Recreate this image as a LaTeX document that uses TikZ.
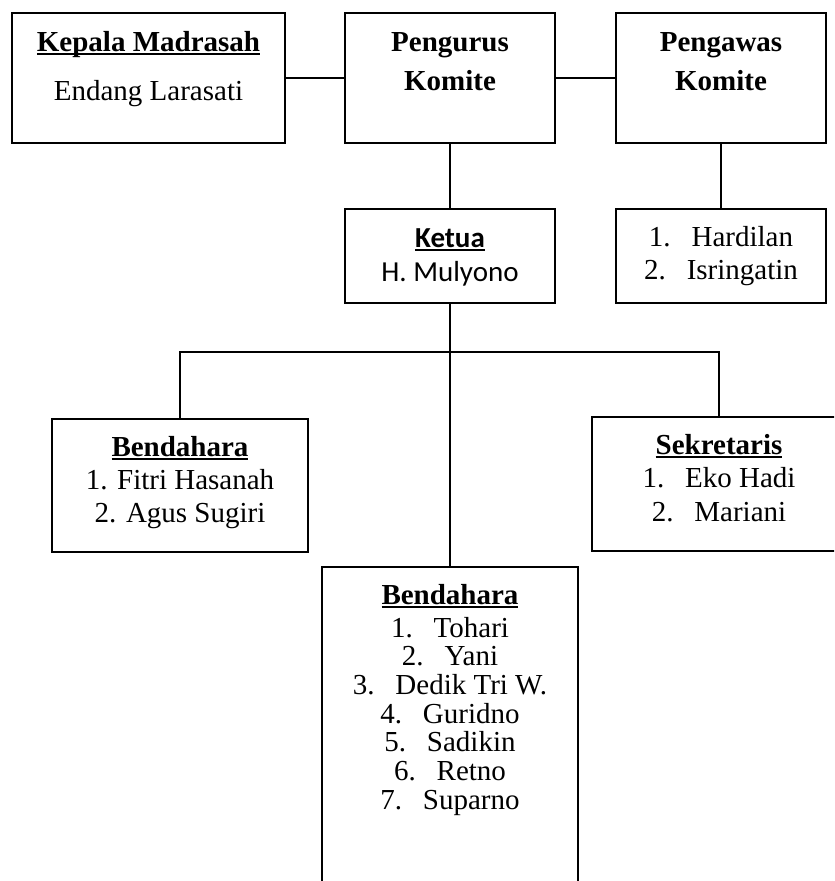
\documentclass[tikz,border=0pt]{standalone}
\usepackage{fontspec}
\setmainfont{Liberation Serif}
\newfontfamily\carlito{Carlito}
\newcommand{\tabgap}{\hspace{0.72em}}
\newcommand{\boxhead}[1]{\setbox0\hbox{\textbf{#1}}\rlap{\rule[-1.8pt]{\wd0}{1pt}}\box0}
\begin{document}
\begin{tikzpicture}[x=0.5pt, y=-0.5pt,
    box/.style={draw, line width=0.8pt, inner sep=0pt},
    txt/.style={anchor=base, align=center, font=\fontsize{14.5pt}{#1}\selectfont},
    txt/.default=16.5pt,
    conn/.style={line width=0.9pt}]
    \useasboundingbox (0,0) rectangle (834,881);
    \clip (0,0) rectangle (834,881);
    \node[box, minimum width=136.5pt, minimum height=65pt] (kepala) at (148.5,78) {};
    \node[box, minimum width=105pt, minimum height=65pt] (pengurus) at (450,78) {};
    \node[box, minimum width=105pt, minimum height=65pt] (pengawas) at (721,78) {};
    \node[box, minimum width=105pt, minimum height=47pt] (ketua) at (450,256) {};
    \node[box, minimum width=105pt, minimum height=47pt] (anggota) at (721,256) {};
    \node[box, minimum width=128pt, minimum height=66.5pt] (bendahara) at (180,485.5) {};
    \node[box, minimum width=127pt, minimum height=67pt] (sekretaris) at (719,484) {};
    \node[box, minimum width=128pt, minimum height=170pt] (bidang) at (450,737) {};
    \coordinate (cabang) at (450,352);
    \draw[conn] (kepala) -- (pengurus);
    \draw[conn] (pengurus) -- (pengawas);
    \draw[conn] (pengurus) -- (ketua);
    \draw[conn] (pengawas) -- (anggota);
    \draw[conn] (ketua) -- (bidang);
    \draw[conn] (bendahara.north) |- (cabang) -| (sekretaris.north);
    \node[txt=24.5pt] (kepalaT) at ([yshift=-44pt]kepala.north) {\boxhead{Kepala Madrasah}\\Endang Larasati};
    \node[txt=19.5pt] (pengurusT) at ([yshift=-39pt]pengurus.north) {\textbf{Pengurus}\\\textbf{Komite}};
    \node[txt=19.5pt] (pengawasT) at ([yshift=-39pt]pengawas.north) {\textbf{Pengawas}\\\textbf{Komite}};
    \node[txt, font=\carlito\fontsize{14.5pt}{17pt}\selectfont] (ketuaT) at ([yshift=-36.5pt]ketua.north) {\boxhead{Ketua}\\H. Mulyono};
    \node[txt] (anggotaT) at ([yshift=-35.5pt]anggota.north) {1.\tabgap Hardilan\\2.\tabgap Isringatin};
    \node[txt] (bendaharaT) at ([yshift=-52pt]bendahara.north) {\boxhead{Bendahara}\\1. Fitri Hasanah\\2. Agus Sugiri};
    \node[txt=16.75pt] (sekretarisT) at ([yshift=-52.5pt]sekretaris.north) {\boxhead{Sekretaris}\\1.\tabgap Eko Hadi\\2.\tabgap Mariani};
    \node[txt=14.35pt] (bidangT) at ([yshift=-121.5pt]bidang.north) {\boxhead{Bendahara}\\[2pt]1.\tabgap Tohari\\2.\tabgap Yani\\3.\tabgap Dedik Tri W.\\4.\tabgap Guridno\\5.\tabgap Sadikin\\6.\tabgap Retno\\7.\tabgap Suparno};
\end{tikzpicture}
\end{document}
